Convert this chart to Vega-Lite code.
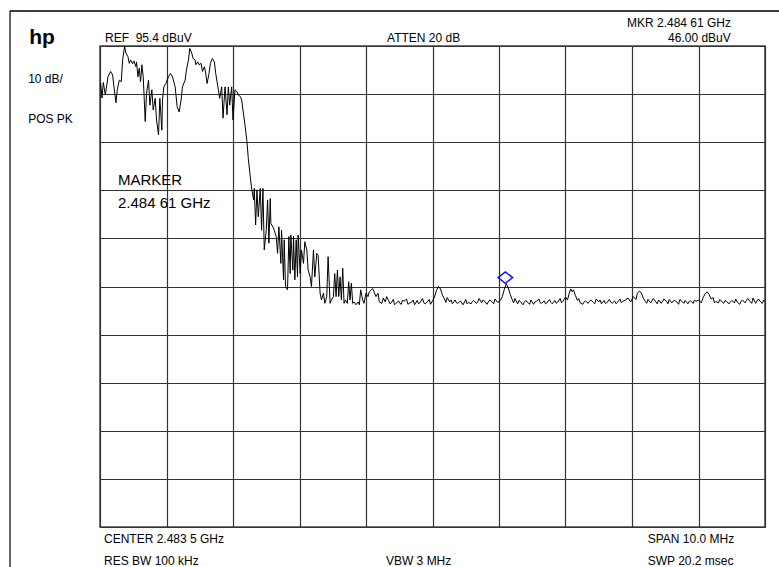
{
  "$schema": "https://vega.github.io/schema/vega-lite/v6.json",
  "width": 665,
  "height": 481,
  "autosize": "none",
  "padding": {"left": 100, "top": 46, "right": 14, "bottom": 40},
  "background": "white",
  "config": {
    "view": {"stroke": "#444", "strokeWidth": 1.5},
    "font": "Liberation Sans",
    "text": {"font": "Liberation Sans", "fontSize": 12, "color": "#000"},
    "axis": {"grid": true, "labels": false, "ticks": false, "domain": false, "title": null, "gridColor": "#333", "gridWidth": 1.2, "gridOpacity": 1}
  },
  "datasets": {
    "trace": [
      {"f": 2478.50, "dB": 87.0}, {"f": 2478.51, "dB": 87.6}, {"f": 2478.53, "dB": 84.6}, {"f": 2478.55, "dB": 87.8},
      {"f": 2478.58, "dB": 85.2}, {"f": 2478.62, "dB": 89.0}, {"f": 2478.66, "dB": 90.1}, {"f": 2478.69, "dB": 89.4},
      {"f": 2478.71, "dB": 86.9}, {"f": 2478.74, "dB": 83.6}, {"f": 2478.76, "dB": 86.3}, {"f": 2478.79, "dB": 88.3},
      {"f": 2478.82, "dB": 88.0}, {"f": 2478.84, "dB": 92.5}, {"f": 2478.87, "dB": 95.3}, {"f": 2478.89, "dB": 93.9},
      {"f": 2478.92, "dB": 93.2}, {"f": 2478.94, "dB": 91.8}, {"f": 2478.96, "dB": 92.5}, {"f": 2478.99, "dB": 91.7},
      {"f": 2479.01, "dB": 92.3}, {"f": 2479.04, "dB": 91.1}, {"f": 2479.05, "dB": 92.1}, {"f": 2479.07, "dB": 89.0},
      {"f": 2479.09, "dB": 90.8}, {"f": 2479.11, "dB": 88.0}, {"f": 2479.13, "dB": 91.5}, {"f": 2479.15, "dB": 89.0},
      {"f": 2479.18, "dB": 79.7}, {"f": 2479.20, "dB": 85.6}, {"f": 2479.23, "dB": 88.3}, {"f": 2479.25, "dB": 83.1},
      {"f": 2479.28, "dB": 86.3}, {"f": 2479.30, "dB": 82.1}, {"f": 2479.33, "dB": 84.5}, {"f": 2479.35, "dB": 80.0},
      {"f": 2479.38, "dB": 76.9}, {"f": 2479.40, "dB": 84.5}, {"f": 2479.43, "dB": 77.9}, {"f": 2479.44, "dB": 84.2},
      {"f": 2479.46, "dB": 86.9}, {"f": 2479.49, "dB": 87.6}, {"f": 2479.53, "dB": 89.0}, {"f": 2479.56, "dB": 89.7},
      {"f": 2479.59, "dB": 89.0}, {"f": 2479.63, "dB": 86.9}, {"f": 2479.66, "dB": 82.8}, {"f": 2479.69, "dB": 81.7},
      {"f": 2479.72, "dB": 84.2}, {"f": 2479.74, "dB": 86.9}, {"f": 2479.78, "dB": 88.3}, {"f": 2479.80, "dB": 90.4},
      {"f": 2479.83, "dB": 92.5}, {"f": 2479.85, "dB": 94.9}, {"f": 2479.88, "dB": 93.9}, {"f": 2479.90, "dB": 92.8},
      {"f": 2479.93, "dB": 92.5}, {"f": 2479.94, "dB": 91.5}, {"f": 2479.97, "dB": 92.1}, {"f": 2479.99, "dB": 91.5},
      {"f": 2480.02, "dB": 91.8}, {"f": 2480.04, "dB": 90.1}, {"f": 2480.07, "dB": 91.1}, {"f": 2480.09, "dB": 89.7},
      {"f": 2480.11, "dB": 87.6}, {"f": 2480.14, "dB": 89.7}, {"f": 2480.16, "dB": 91.8}, {"f": 2480.19, "dB": 92.8},
      {"f": 2480.22, "dB": 92.1}, {"f": 2480.24, "dB": 89.7}, {"f": 2480.28, "dB": 86.3}, {"f": 2480.30, "dB": 84.5},
      {"f": 2480.33, "dB": 86.9}, {"f": 2480.35, "dB": 80.4}, {"f": 2480.38, "dB": 86.9}, {"f": 2480.41, "dB": 81.1},
      {"f": 2480.43, "dB": 86.9}, {"f": 2480.45, "dB": 83.1}, {"f": 2480.48, "dB": 86.9}, {"f": 2480.50, "dB": 80.0},
      {"f": 2480.53, "dB": 86.3}, {"f": 2480.56, "dB": 85.9}, {"f": 2480.58, "dB": 85.2}, {"f": 2480.61, "dB": 84.9},
      {"f": 2480.63, "dB": 84.2}, {"f": 2480.65, "dB": 82.1}, {"f": 2480.68, "dB": 79.0}, {"f": 2480.71, "dB": 75.5},
      {"f": 2480.73, "dB": 72.0}, {"f": 2480.76, "dB": 68.2}, {"f": 2480.78, "dB": 65.8}, {"f": 2480.81, "dB": 63.4},
      {"f": 2480.82, "dB": 65.8}, {"f": 2480.84, "dB": 58.2}, {"f": 2480.86, "dB": 65.5}, {"f": 2480.88, "dB": 59.9},
      {"f": 2480.91, "dB": 65.8}, {"f": 2480.93, "dB": 57.1}, {"f": 2480.95, "dB": 65.8}, {"f": 2480.97, "dB": 53.0},
      {"f": 2481.00, "dB": 57.1}, {"f": 2481.02, "dB": 63.4}, {"f": 2481.04, "dB": 54.4}, {"f": 2481.06, "dB": 63.7},
      {"f": 2481.07, "dB": 58.5}, {"f": 2481.10, "dB": 57.8}, {"f": 2481.12, "dB": 57.1}, {"f": 2481.15, "dB": 55.8},
      {"f": 2481.17, "dB": 52.3}, {"f": 2481.19, "dB": 57.8}, {"f": 2481.22, "dB": 50.2}, {"f": 2481.23, "dB": 57.1},
      {"f": 2481.26, "dB": 46.8}, {"f": 2481.27, "dB": 55.1}, {"f": 2481.29, "dB": 45.4}, {"f": 2481.32, "dB": 44.7},
      {"f": 2481.34, "dB": 55.8}, {"f": 2481.36, "dB": 48.1}, {"f": 2481.37, "dB": 56.1}, {"f": 2481.40, "dB": 48.8},
      {"f": 2481.41, "dB": 55.8}, {"f": 2481.43, "dB": 46.8}, {"f": 2481.45, "dB": 55.1}, {"f": 2481.47, "dB": 47.4},
      {"f": 2481.48, "dB": 56.1}, {"f": 2481.51, "dB": 48.1}, {"f": 2481.53, "dB": 53.0}, {"f": 2481.56, "dB": 50.2},
      {"f": 2481.58, "dB": 54.7}, {"f": 2481.61, "dB": 53.0}, {"f": 2481.63, "dB": 48.8}, {"f": 2481.66, "dB": 47.4},
      {"f": 2481.68, "dB": 45.4}, {"f": 2481.71, "dB": 53.0}, {"f": 2481.73, "dB": 47.4}, {"f": 2481.76, "dB": 52.3},
      {"f": 2481.78, "dB": 51.9}, {"f": 2481.81, "dB": 44.0}, {"f": 2481.83, "dB": 42.6}, {"f": 2481.86, "dB": 44.0},
      {"f": 2481.88, "dB": 41.9}, {"f": 2481.91, "dB": 43.3}, {"f": 2481.93, "dB": 51.6}, {"f": 2481.96, "dB": 41.9},
      {"f": 2481.98, "dB": 42.6}, {"f": 2482.01, "dB": 43.3}, {"f": 2482.03, "dB": 48.1}, {"f": 2482.05, "dB": 43.3},
      {"f": 2482.07, "dB": 48.8}, {"f": 2482.09, "dB": 43.3}, {"f": 2482.11, "dB": 47.4}, {"f": 2482.13, "dB": 42.6},
      {"f": 2482.15, "dB": 49.2}, {"f": 2482.17, "dB": 41.9}, {"f": 2482.19, "dB": 42.6}, {"f": 2482.22, "dB": 41.9},
      {"f": 2482.24, "dB": 46.4}, {"f": 2482.26, "dB": 42.6}, {"f": 2482.28, "dB": 46.1}, {"f": 2482.30, "dB": 41.9},
      {"f": 2482.32, "dB": 42.2}, {"f": 2482.35, "dB": 41.6}, {"f": 2482.38, "dB": 42.2}, {"f": 2482.40, "dB": 41.6},
      {"f": 2482.42, "dB": 44.7}, {"f": 2482.45, "dB": 42.6}, {"f": 2482.47, "dB": 41.9}, {"f": 2482.50, "dB": 44.0},
      {"f": 2482.53, "dB": 43.3}, {"f": 2482.55, "dB": 44.3}, {"f": 2482.58, "dB": 44.7}, {"f": 2482.60, "dB": 45.0},
      {"f": 2482.62, "dB": 44.3}, {"f": 2482.65, "dB": 43.3}, {"f": 2482.68, "dB": 44.0}, {"f": 2482.70, "dB": 42.2},
      {"f": 2482.74, "dB": 41.9}, {"f": 2482.76, "dB": 43.0}, {"f": 2482.79, "dB": 42.2}, {"f": 2482.81, "dB": 43.3},
      {"f": 2482.84, "dB": 42.5}, {"f": 2482.86, "dB": 41.8}, {"f": 2482.88, "dB": 42.0}, {"f": 2482.91, "dB": 42.7},
      {"f": 2482.93, "dB": 41.6}, {"f": 2482.95, "dB": 41.9},
      {"f": 2482.99, "dB": 42.4}, {"f": 2483.01, "dB": 41.9}, {"f": 2483.03, "dB": 41.7}, {"f": 2483.05, "dB": 42.6}, {"f": 2483.07, "dB": 42.3}, {"f": 2483.11, "dB": 42.8},
      {"f": 2483.13, "dB": 41.7}, {"f": 2483.15, "dB": 41.9}, {"f": 2483.19, "dB": 42.2}, {"f": 2483.21, "dB": 42.6}, {"f": 2483.23, "dB": 41.6}, {"f": 2483.27, "dB": 42.5},
      {"f": 2483.29, "dB": 41.8}, {"f": 2483.31, "dB": 42.0}, {"f": 2483.35, "dB": 42.9}, {"f": 2483.37, "dB": 42.0}, {"f": 2483.39, "dB": 41.8}, {"f": 2483.43, "dB": 42.3},
      {"f": 2483.45, "dB": 42.7}, {"f": 2483.47, "dB": 41.7}, {"f": 2483.50, "dB": 42.4}, {"f": 2483.53, "dB": 43.2}, {"f": 2483.56, "dB": 44.6},
      {"f": 2483.59, "dB": 45.4}, {"f": 2483.62, "dB": 44.9}, {"f": 2483.65, "dB": 43.6}, {"f": 2483.68, "dB": 42.8},
      {"f": 2483.70, "dB": 42.1}, {"f": 2483.72, "dB": 43.1}, {"f": 2483.76, "dB": 42.2}, {"f": 2483.78, "dB": 42.6}, {"f": 2483.80, "dB": 41.8}, {"f": 2483.84, "dB": 42.6},
      {"f": 2483.86, "dB": 42.0}, {"f": 2483.88, "dB": 41.9}, {"f": 2483.92, "dB": 42.4}, {"f": 2483.94, "dB": 42.0}, {"f": 2483.96, "dB": 41.6}, {"f": 2484.00, "dB": 42.7},
      {"f": 2484.02, "dB": 41.8}, {"f": 2484.04, "dB": 42.1}, {"f": 2484.08, "dB": 41.8}, {"f": 2484.10, "dB": 42.3}, {"f": 2484.12, "dB": 42.5}, {"f": 2484.16, "dB": 41.9},
      {"f": 2484.18, "dB": 42.2}, {"f": 2484.20, "dB": 42.9}, {"f": 2484.24, "dB": 42.0}, {"f": 2484.26, "dB": 42.6}, {"f": 2484.28, "dB": 42.4}, {"f": 2484.32, "dB": 41.7},
      {"f": 2484.34, "dB": 42.2}, {"f": 2484.36, "dB": 42.6}, {"f": 2484.40, "dB": 42.2}, {"f": 2484.42, "dB": 41.8}, {"f": 2484.44, "dB": 42.8}, {"f": 2484.48, "dB": 42.1},
      {"f": 2484.52, "dB": 42.5}, {"f": 2484.55, "dB": 43.3}, {"f": 2484.58, "dB": 44.8}, {"f": 2484.61, "dB": 46.0},
      {"f": 2484.64, "dB": 45.1}, {"f": 2484.67, "dB": 43.7}, {"f": 2484.70, "dB": 42.6}, {"f": 2484.72, "dB": 42.0}, {"f": 2484.74, "dB": 42.9},
      {"f": 2484.78, "dB": 41.8}, {"f": 2484.80, "dB": 42.5}, {"f": 2484.82, "dB": 42.3}, {"f": 2484.86, "dB": 41.6}, {"f": 2484.88, "dB": 42.1}, {"f": 2484.90, "dB": 42.5},
      {"f": 2484.94, "dB": 42.0}, {"f": 2484.96, "dB": 41.7}, {"f": 2484.98, "dB": 42.6}, {"f": 2485.02, "dB": 41.7}, {"f": 2485.04, "dB": 42.2}, {"f": 2485.06, "dB": 42.3},
      {"f": 2485.10, "dB": 42.8}, {"f": 2485.12, "dB": 42.0}, {"f": 2485.14, "dB": 41.9}, {"f": 2485.18, "dB": 42.4}, {"f": 2485.20, "dB": 41.8}, {"f": 2485.22, "dB": 42.0},
      {"f": 2485.26, "dB": 42.7}, {"f": 2485.28, "dB": 42.1}, {"f": 2485.30, "dB": 41.8}, {"f": 2485.34, "dB": 42.5}, {"f": 2485.36, "dB": 41.9}, {"f": 2485.38, "dB": 42.1},
      {"f": 2485.42, "dB": 42.9}, {"f": 2485.44, "dB": 42.0}, {"f": 2485.46, "dB": 42.3}, {"f": 2485.50, "dB": 43.2}, {"f": 2485.53, "dB": 42.6},
      {"f": 2485.56, "dB": 44.2}, {"f": 2485.58, "dB": 44.9}, {"f": 2485.60, "dB": 44.3}, {"f": 2485.62, "dB": 44.7},
      {"f": 2485.65, "dB": 43.5}, {"f": 2485.68, "dB": 42.5}, {"f": 2485.70, "dB": 42.9}, {"f": 2485.72, "dB": 42.0}, {"f": 2485.76, "dB": 41.7},
      {"f": 2485.78, "dB": 42.2}, {"f": 2485.80, "dB": 42.4}, {"f": 2485.84, "dB": 41.9}, {"f": 2485.86, "dB": 42.3}, {"f": 2485.88, "dB": 42.6}, {"f": 2485.92, "dB": 42.1},
      {"f": 2485.94, "dB": 41.8}, {"f": 2485.96, "dB": 42.8}, {"f": 2486.00, "dB": 42.2}, {"f": 2486.02, "dB": 42.6}, {"f": 2486.04, "dB": 41.8}, {"f": 2486.08, "dB": 42.5},
      {"f": 2486.10, "dB": 41.9}, {"f": 2486.12, "dB": 42.0}, {"f": 2486.16, "dB": 42.7}, {"f": 2486.18, "dB": 42.2}, {"f": 2486.20, "dB": 41.9}, {"f": 2486.24, "dB": 42.4},
      {"f": 2486.26, "dB": 41.8}, {"f": 2486.28, "dB": 42.1}, {"f": 2486.32, "dB": 42.8}, {"f": 2486.34, "dB": 42.0}, {"f": 2486.36, "dB": 42.3}, {"f": 2486.40, "dB": 42.6},
      {"f": 2486.44, "dB": 43.0}, {"f": 2486.48, "dB": 42.2}, {"f": 2486.52, "dB": 43.3}, {"f": 2486.56, "dB": 42.7},
      {"f": 2486.58, "dB": 44.0}, {"f": 2486.61, "dB": 44.4}, {"f": 2486.64, "dB": 44.1}, {"f": 2486.67, "dB": 43.0},
      {"f": 2486.70, "dB": 42.3}, {"f": 2486.72, "dB": 41.9}, {"f": 2486.74, "dB": 42.7}, {"f": 2486.78, "dB": 42.0}, {"f": 2486.80, "dB": 42.4}, {"f": 2486.82, "dB": 42.9},
      {"f": 2486.86, "dB": 42.2}, {"f": 2486.88, "dB": 41.8}, {"f": 2486.90, "dB": 42.6}, {"f": 2486.94, "dB": 41.9}, {"f": 2486.96, "dB": 42.3}, {"f": 2486.98, "dB": 42.8},
      {"f": 2487.02, "dB": 42.3}, {"f": 2487.04, "dB": 41.8}, {"f": 2487.06, "dB": 42.7}, {"f": 2487.10, "dB": 42.0}, {"f": 2487.12, "dB": 42.4}, {"f": 2487.14, "dB": 42.5},
      {"f": 2487.18, "dB": 42.1}, {"f": 2487.20, "dB": 41.7}, {"f": 2487.22, "dB": 42.7}, {"f": 2487.26, "dB": 42.2}, {"f": 2487.28, "dB": 41.9}, {"f": 2487.30, "dB": 42.5},
      {"f": 2487.34, "dB": 41.8}, {"f": 2487.36, "dB": 42.3}, {"f": 2487.38, "dB": 42.4}, {"f": 2487.42, "dB": 41.9}, {"f": 2487.44, "dB": 42.6}, {"f": 2487.46, "dB": 42.3},
      {"f": 2487.50, "dB": 42.6}, {"f": 2487.54, "dB": 42.0}, {"f": 2487.57, "dB": 43.1}, {"f": 2487.60, "dB": 43.9},
      {"f": 2487.63, "dB": 44.3}, {"f": 2487.66, "dB": 43.7}, {"f": 2487.69, "dB": 42.8}, {"f": 2487.72, "dB": 43.1},
      {"f": 2487.74, "dB": 42.0}, {"f": 2487.76, "dB": 42.3}, {"f": 2487.80, "dB": 42.0}, {"f": 2487.82, "dB": 42.7}, {"f": 2487.84, "dB": 42.4}, {"f": 2487.88, "dB": 41.9},
      {"f": 2487.90, "dB": 42.5}, {"f": 2487.92, "dB": 42.3}, {"f": 2487.96, "dB": 41.8}, {"f": 2487.98, "dB": 42.2}, {"f": 2488.00, "dB": 42.5}, {"f": 2488.04, "dB": 42.0},
      {"f": 2488.06, "dB": 42.8}, {"f": 2488.08, "dB": 42.2}, {"f": 2488.12, "dB": 41.7}, {"f": 2488.14, "dB": 42.3}, {"f": 2488.16, "dB": 42.6}, {"f": 2488.20, "dB": 42.0},
      {"f": 2488.22, "dB": 42.5}, {"f": 2488.24, "dB": 42.9}, {"f": 2488.28, "dB": 42.2}, {"f": 2488.30, "dB": 41.9}, {"f": 2488.32, "dB": 43.0}, {"f": 2488.36, "dB": 41.9},
      {"f": 2488.38, "dB": 42.4}, {"f": 2488.40, "dB": 42.8}, {"f": 2488.44, "dB": 42.1}, {"f": 2488.46, "dB": 41.9}, {"f": 2488.48, "dB": 42.6}, {"f": 2488.50, "dB": 42.3}
    ],
    "marker": [{"f": 2484.61, "dB": 46.0}],
    "one": [{}]
  },
  "layer": [
    {
      "data": {"name": "trace"},
      "mark": {"type": "line", "color": "#000", "strokeWidth": 1, "clip": true},
      "encoding": {
        "x": {"field": "f", "type": "quantitative", "scale": {"domain": [2478.5, 2488.5], "nice": false, "zero": false},
          "axis": {"values": [2478.5, 2479.5, 2480.5, 2481.5, 2482.5, 2483.5, 2484.5, 2485.5, 2486.5, 2487.5, 2488.5]}},
        "y": {"field": "dB", "type": "quantitative", "scale": {"domain": [-4.6, 95.4], "nice": false, "zero": false},
          "axis": {"values": [95.4, 85.4, 75.4, 65.4, 55.4, 45.4, 35.4, 25.4, 15.4, 5.4, -4.6]}}
      }
    },
    {
      "data": {"name": "marker"},
      "mark": {"type": "point", "shape": "M-1,0L0,-0.78L1,0L0,0.78Z", "size": 213, "filled": false,
        "stroke": "#1414ff", "strokeWidth": 1.5, "opacity": 1, "yOffset": -6, "xOffset": -1},
      "encoding": {
        "x": {"field": "f", "type": "quantitative", "scale": {"domain": [2478.5, 2488.5], "nice": false, "zero": false},
          "axis": {"values": [2478.5, 2479.5, 2480.5, 2481.5, 2482.5, 2483.5, 2484.5, 2485.5, 2486.5, 2487.5, 2488.5]}},
        "y": {"field": "dB", "type": "quantitative", "scale": {"domain": [-4.6, 95.4], "nice": false, "zero": false},
          "axis": {"values": [95.4, 85.4, 75.4, 65.4, 55.4, 45.4, 35.4, 25.4, 15.4, 5.4, -4.6]}}
      }
    },
    {
      "data": {"name": "one"},
      "mark": {"type": "rule", "color": "#000", "strokeWidth": 1.5},
      "encoding": {
        "x": {"datum": 2477.147, "type": "quantitative", "scale": {"domain": [2478.5, 2488.5], "nice": false, "zero": false},
          "axis": {"values": [2478.5, 2479.5, 2480.5, 2481.5, 2482.5, 2483.5, 2484.5, 2485.5, 2486.5, 2487.5, 2488.5]}},
        "x2": {"datum": 2488.75},
        "y": {"datum": 102.68, "type": "quantitative", "scale": {"domain": [-4.6, 95.4], "nice": false, "zero": false},
          "axis": {"values": [95.4, 85.4, 75.4, 65.4, 55.4, 45.4, 35.4, 25.4, 15.4, 5.4, -4.6]}}
      }
    },
    {
      "data": {"name": "one"},
      "mark": {"type": "rule", "color": "#000", "strokeWidth": 1.2},
      "encoding": {
        "x": {"datum": 2477.147, "type": "quantitative", "scale": {"domain": [2478.5, 2488.5], "nice": false, "zero": false},
          "axis": {"values": [2478.5, 2479.5, 2480.5, 2481.5, 2482.5, 2483.5, 2484.5, 2485.5, 2486.5, 2487.5, 2488.5]}},
        "y": {"datum": 102.68, "type": "quantitative", "scale": {"domain": [-4.6, 95.4], "nice": false, "zero": false},
          "axis": {"values": [95.4, 85.4, 75.4, 65.4, 55.4, 45.4, 35.4, 25.4, 15.4, 5.4, -4.6]}},
        "y2": {"datum": -13.5}
      }
    },
    {
      "data": {"name": "one"},
      "mark": {"type": "text", "align": "left", "baseline": "alphabetic", "fontSize": 21, "fontWeight": "bold"},
      "encoding": {
        "x": {"datum": 2477.435, "type": "quantitative", "scale": {"domain": [2478.5, 2488.5], "nice": false, "zero": false},
          "axis": {"values": [2478.5, 2479.5, 2480.5, 2481.5, 2482.5, 2483.5, 2484.5, 2485.5, 2486.5, 2487.5, 2488.5]}},
        "y": {"datum": 95.82, "type": "quantitative", "scale": {"domain": [-4.6, 95.4], "nice": false, "zero": false},
          "axis": {"values": [95.4, 85.4, 75.4, 65.4, 55.4, 45.4, 35.4, 25.4, 15.4, 5.4, -4.6]}},
        "text": {"value": "hp"}
      }
    },
    {
      "data": {"name": "one"},
      "mark": {"type": "text", "align": "left", "baseline": "alphabetic", "fontSize": 12},
      "encoding": {
        "x": {"datum": 2477.42, "type": "quantitative", "scale": {"domain": [2478.5, 2488.5], "nice": false, "zero": false},
          "axis": {"values": [2478.5, 2479.5, 2480.5, 2481.5, 2482.5, 2483.5, 2484.5, 2485.5, 2486.5, 2487.5, 2488.5]}},
        "y": {"datum": 87.71, "type": "quantitative", "scale": {"domain": [-4.6, 95.4], "nice": false, "zero": false},
          "axis": {"values": [95.4, 85.4, 75.4, 65.4, 55.4, 45.4, 35.4, 25.4, 15.4, 5.4, -4.6]}},
        "text": {"value": "10 dB/"}
      }
    },
    {
      "data": {"name": "one"},
      "mark": {"type": "text", "align": "left", "baseline": "alphabetic", "fontSize": 12},
      "encoding": {
        "x": {"datum": 2477.42, "type": "quantitative", "scale": {"domain": [2478.5, 2488.5], "nice": false, "zero": false},
          "axis": {"values": [2478.5, 2479.5, 2480.5, 2481.5, 2482.5, 2483.5, 2484.5, 2485.5, 2486.5, 2487.5, 2488.5]}},
        "y": {"datum": 79.33, "type": "quantitative", "scale": {"domain": [-4.6, 95.4], "nice": false, "zero": false},
          "axis": {"values": [95.4, 85.4, 75.4, 65.4, 55.4, 45.4, 35.4, 25.4, 15.4, 5.4, -4.6]}},
        "text": {"value": "POS PK"}
      }
    },
    {
      "data": {"name": "one"},
      "mark": {"type": "text", "align": "left", "baseline": "alphabetic", "fontSize": 12},
      "encoding": {
        "x": {"datum": 2478.575, "type": "quantitative", "scale": {"domain": [2478.5, 2488.5], "nice": false, "zero": false},
          "axis": {"values": [2478.5, 2479.5, 2480.5, 2481.5, 2482.5, 2483.5, 2484.5, 2485.5, 2486.5, 2487.5, 2488.5]}},
        "y": {"datum": 96.29, "type": "quantitative", "scale": {"domain": [-4.6, 95.4], "nice": false, "zero": false},
          "axis": {"values": [95.4, 85.4, 75.4, 65.4, 55.4, 45.4, 35.4, 25.4, 15.4, 5.4, -4.6]}},
        "text": {"value": "REF\u00a0\u00a095.4 dBuV"}
      }
    },
    {
      "data": {"name": "one"},
      "mark": {"type": "text", "align": "left", "baseline": "alphabetic", "fontSize": 12},
      "encoding": {
        "x": {"datum": 2482.816, "type": "quantitative", "scale": {"domain": [2478.5, 2488.5], "nice": false, "zero": false},
          "axis": {"values": [2478.5, 2479.5, 2480.5, 2481.5, 2482.5, 2483.5, 2484.5, 2485.5, 2486.5, 2487.5, 2488.5]}},
        "y": {"datum": 96.29, "type": "quantitative", "scale": {"domain": [-4.6, 95.4], "nice": false, "zero": false},
          "axis": {"values": [95.4, 85.4, 75.4, 65.4, 55.4, 45.4, 35.4, 25.4, 15.4, 5.4, -4.6]}},
        "text": {"value": "ATTEN 20 dB"}
      }
    },
    {
      "data": {"name": "one"},
      "mark": {"type": "text", "align": "right", "baseline": "alphabetic", "fontSize": 12},
      "encoding": {
        "x": {"datum": 2487.989, "type": "quantitative", "scale": {"domain": [2478.5, 2488.5], "nice": false, "zero": false},
          "axis": {"values": [2478.5, 2479.5, 2480.5, 2481.5, 2482.5, 2483.5, 2484.5, 2485.5, 2486.5, 2487.5, 2488.5]}},
        "y": {"datum": 99.41, "type": "quantitative", "scale": {"domain": [-4.6, 95.4], "nice": false, "zero": false},
          "axis": {"values": [95.4, 85.4, 75.4, 65.4, 55.4, 45.4, 35.4, 25.4, 15.4, 5.4, -4.6]}},
        "text": {"value": "MKR 2.484 61 GHz"}
      }
    },
    {
      "data": {"name": "one"},
      "mark": {"type": "text", "align": "right", "baseline": "alphabetic", "fontSize": 12},
      "encoding": {
        "x": {"datum": 2487.985, "type": "quantitative", "scale": {"domain": [2478.5, 2488.5], "nice": false, "zero": false},
          "axis": {"values": [2478.5, 2479.5, 2480.5, 2481.5, 2482.5, 2483.5, 2484.5, 2485.5, 2486.5, 2487.5, 2488.5]}},
        "y": {"datum": 96.29, "type": "quantitative", "scale": {"domain": [-4.6, 95.4], "nice": false, "zero": false},
          "axis": {"values": [95.4, 85.4, 75.4, 65.4, 55.4, 45.4, 35.4, 25.4, 15.4, 5.4, -4.6]}},
        "text": {"value": "46.00 dBuV"}
      }
    },
    {
      "data": {"name": "one"},
      "mark": {"type": "text", "align": "left", "baseline": "alphabetic", "fontSize": 15},
      "encoding": {
        "x": {"datum": 2478.77, "type": "quantitative", "scale": {"domain": [2478.5, 2488.5], "nice": false, "zero": false},
          "axis": {"values": [2478.5, 2479.5, 2480.5, 2481.5, 2482.5, 2483.5, 2484.5, 2485.5, 2486.5, 2487.5, 2488.5]}},
        "y": {"datum": 66.42, "type": "quantitative", "scale": {"domain": [-4.6, 95.4], "nice": false, "zero": false},
          "axis": {"values": [95.4, 85.4, 75.4, 65.4, 55.4, 45.4, 35.4, 25.4, 15.4, 5.4, -4.6]}},
        "text": {"value": "MARKER"}
      }
    },
    {
      "data": {"name": "one"},
      "mark": {"type": "text", "align": "left", "baseline": "alphabetic", "fontSize": 15},
      "encoding": {
        "x": {"datum": 2478.77, "type": "quantitative", "scale": {"domain": [2478.5, 2488.5], "nice": false, "zero": false},
          "axis": {"values": [2478.5, 2479.5, 2480.5, 2481.5, 2482.5, 2483.5, 2484.5, 2485.5, 2486.5, 2487.5, 2488.5]}},
        "y": {"datum": 61.64, "type": "quantitative", "scale": {"domain": [-4.6, 95.4], "nice": false, "zero": false},
          "axis": {"values": [95.4, 85.4, 75.4, 65.4, 55.4, 45.4, 35.4, 25.4, 15.4, 5.4, -4.6]}},
        "text": {"value": "2.484 61 GHz"}
      }
    },
    {
      "data": {"name": "one"},
      "mark": {"type": "text", "align": "left", "baseline": "alphabetic", "fontSize": 12},
      "encoding": {
        "x": {"datum": 2478.56, "type": "quantitative", "scale": {"domain": [2478.5, 2488.5], "nice": false, "zero": false},
          "axis": {"values": [2478.5, 2479.5, 2480.5, 2481.5, 2482.5, 2483.5, 2484.5, 2485.5, 2486.5, 2487.5, 2488.5]}},
        "y": {"datum": -7.86, "type": "quantitative", "scale": {"domain": [-4.6, 95.4], "nice": false, "zero": false},
          "axis": {"values": [95.4, 85.4, 75.4, 65.4, 55.4, 45.4, 35.4, 25.4, 15.4, 5.4, -4.6]}},
        "text": {"value": "CENTER 2.483 5 GHz"}
      }
    },
    {
      "data": {"name": "one"},
      "mark": {"type": "text", "align": "left", "baseline": "alphabetic", "fontSize": 12},
      "encoding": {
        "x": {"datum": 2478.56, "type": "quantitative", "scale": {"domain": [2478.5, 2488.5], "nice": false, "zero": false},
          "axis": {"values": [2478.5, 2479.5, 2480.5, 2481.5, 2482.5, 2483.5, 2484.5, 2485.5, 2486.5, 2487.5, 2488.5]}},
        "y": {"datum": -12.5, "type": "quantitative", "scale": {"domain": [-4.6, 95.4], "nice": false, "zero": false},
          "axis": {"values": [95.4, 85.4, 75.4, 65.4, 55.4, 45.4, 35.4, 25.4, 15.4, 5.4, -4.6]}},
        "text": {"value": "RES BW 100 kHz"}
      }
    },
    {
      "data": {"name": "one"},
      "mark": {"type": "text", "align": "left", "baseline": "alphabetic", "fontSize": 12},
      "encoding": {
        "x": {"datum": 2482.80, "type": "quantitative", "scale": {"domain": [2478.5, 2488.5], "nice": false, "zero": false},
          "axis": {"values": [2478.5, 2479.5, 2480.5, 2481.5, 2482.5, 2483.5, 2484.5, 2485.5, 2486.5, 2487.5, 2488.5]}},
        "y": {"datum": -12.5, "type": "quantitative", "scale": {"domain": [-4.6, 95.4], "nice": false, "zero": false},
          "axis": {"values": [95.4, 85.4, 75.4, 65.4, 55.4, 45.4, 35.4, 25.4, 15.4, 5.4, -4.6]}},
        "text": {"value": "VBW 3 MHz"}
      }
    },
    {
      "data": {"name": "one"},
      "mark": {"type": "text", "align": "left", "baseline": "alphabetic", "fontSize": 12},
      "encoding": {
        "x": {"datum": 2486.736, "type": "quantitative", "scale": {"domain": [2478.5, 2488.5], "nice": false, "zero": false},
          "axis": {"values": [2478.5, 2479.5, 2480.5, 2481.5, 2482.5, 2483.5, 2484.5, 2485.5, 2486.5, 2487.5, 2488.5]}},
        "y": {"datum": -7.86, "type": "quantitative", "scale": {"domain": [-4.6, 95.4], "nice": false, "zero": false},
          "axis": {"values": [95.4, 85.4, 75.4, 65.4, 55.4, 45.4, 35.4, 25.4, 15.4, 5.4, -4.6]}},
        "text": {"value": "SPAN 10.0 MHz"}
      }
    },
    {
      "data": {"name": "one"},
      "mark": {"type": "text", "align": "left", "baseline": "alphabetic", "fontSize": 12},
      "encoding": {
        "x": {"datum": 2486.736, "type": "quantitative", "scale": {"domain": [2478.5, 2488.5], "nice": false, "zero": false},
          "axis": {"values": [2478.5, 2479.5, 2480.5, 2481.5, 2482.5, 2483.5, 2484.5, 2485.5, 2486.5, 2487.5, 2488.5]}},
        "y": {"datum": -12.5, "type": "quantitative", "scale": {"domain": [-4.6, 95.4], "nice": false, "zero": false},
          "axis": {"values": [95.4, 85.4, 75.4, 65.4, 55.4, 45.4, 35.4, 25.4, 15.4, 5.4, -4.6]}},
        "text": {"value": "SWP 20.2 msec"}
      }
    }
  ]
}
